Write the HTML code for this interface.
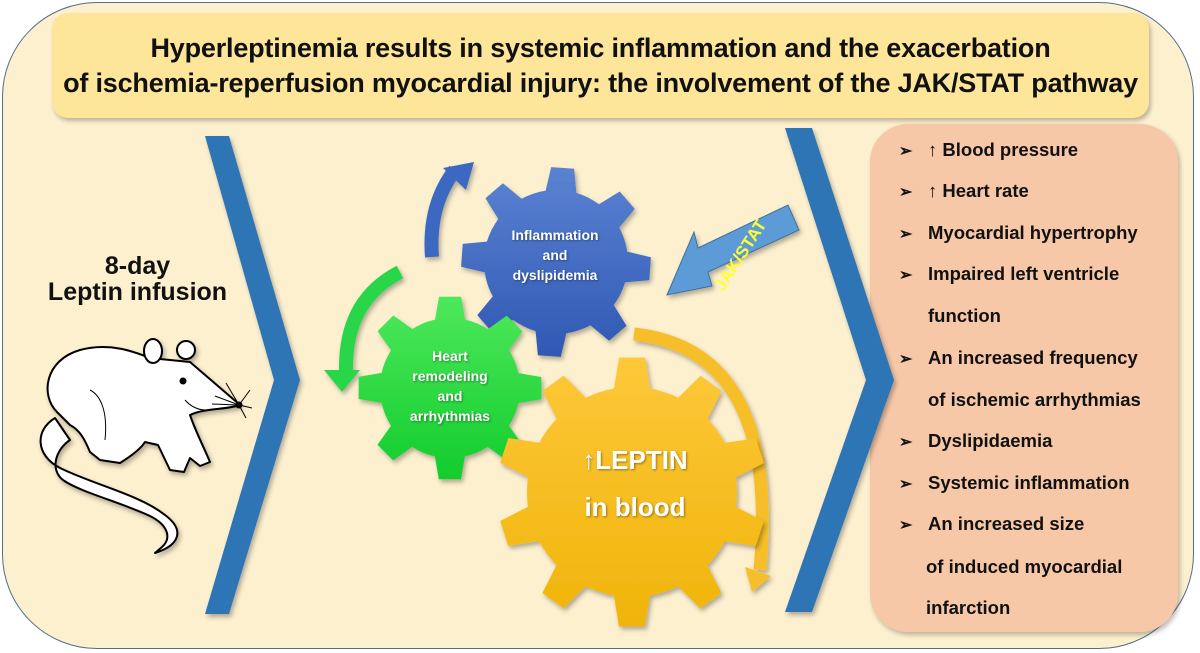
<!DOCTYPE html>
<html><head><meta charset="utf-8"><style>
html,body{margin:0;padding:0;background:#fff;}
body{width:1200px;height:653px;position:relative;overflow:hidden;font-family:"Liberation Sans",sans-serif;}
.outer{position:absolute;left:2px;top:2px;width:1192px;height:647px;background:#fdf0cf;border:1.5px solid #4f6f88;border-radius:95px;box-sizing:border-box;}
.title{position:absolute;left:52px;top:13px;width:1097px;height:105px;background:#fde599;border-radius:16px;box-shadow:2px 3px 4px rgba(0,0,0,.25);text-align:center;font-weight:bold;font-size:27px;line-height:35px;color:#111;padding-top:18px;box-sizing:border-box;letter-spacing:-.2px;}
.panel{position:absolute;left:870px;top:124px;width:308px;height:508px;background:#f7c8a8;border-radius:38px;box-shadow:2px 3px 5px rgba(0,0,0,.25);}
.li{position:absolute;left:899px;font-weight:bold;font-size:18.5px;color:#111;white-space:nowrap;}
.li b{display:inline-block;width:29px;font-size:16px;}
.ind{left:928px;}
.left{position:absolute;left:40px;width:195px;text-align:center;font-weight:bold;font-size:25px;color:#111;}
svg{position:absolute;left:0;top:0;}
</style></head><body>
<div class="outer"></div>
<div class="title">Hyperleptinemia results in systemic inflammation and the exacerbation<br>of ischemia-reperfusion myocardial injury: the involvement of the JAK/STAT pathway</div>
<div class="panel"></div>
<svg width="1200" height="653" viewBox="0 0 1200 653">
<defs>
<filter id="sh" x="-20%" y="-20%" width="140%" height="140%"><feDropShadow dx="2" dy="3" stdDeviation="2.5" flood-color="#000" flood-opacity="0.3"/></filter>
<linearGradient id="gb" x1="0" y1="0" x2="0" y2="1"><stop offset="0" stop-color="#5b82d2"/><stop offset="1" stop-color="#2f58b3"/></linearGradient>
<linearGradient id="gg" x1="0" y1="0" x2="0" y2="1"><stop offset="0" stop-color="#4ee85c"/><stop offset="1" stop-color="#12cc2c"/></linearGradient>
<linearGradient id="gy" x1="0" y1="0" x2="0" y2="1"><stop offset="0" stop-color="#fdc83a"/><stop offset="1" stop-color="#f0b40a"/></linearGradient>
</defs>
<polygon points="205,136 229,136 300,380 229,614 205,614 274,380" fill="#2e74b5" filter="url(#sh)"/>
<polygon points="785,128 812,128 894,380 812,612 785,612 866,380" fill="#2e74b5" filter="url(#sh)"/>
<g filter="url(#sh)">
<path d="M432,257 Q428,205 455,170" fill="none" stroke="#3d68c2" stroke-width="14"/>
<polygon points="443,168 474,162 466,190" fill="#3d68c2"/>
<path d="M400,272 Q345,300 346,370" fill="none" stroke="#2bd648" stroke-width="14"/>
<polygon points="324,370 360,370 342,392" fill="#2bd648"/>
<path d="M634,334 Q780,350 760,570" fill="none" stroke="#f6bf2a" stroke-width="13"/>
<polygon points="745,567 771,576 752,592" fill="#f6bf2a"/>
<polygon points="667,295 694,232 698,248 788,205 799,230 708,272 712,286" fill="#5b9bd5" stroke="#41719c" stroke-width="1"/>
</g>
<g id="gears"></g>
<text x="0" y="6" text-anchor="middle" transform="translate(740,255) rotate(-57)" font-family="Liberation Sans,sans-serif" font-weight="bold" font-size="17" fill="#ffff33">JAK/STAT</text>
<!-- mouse -->
<g filter="url(#sh)" stroke="#000" stroke-width="2" fill="#fff" stroke-linejoin="round">
<path d="M55,418 C35,430 35,455 60,468 C95,485 140,495 165,515 C185,530 180,545 155,553 L162,547 C172,538 168,525 150,516 C120,502 80,492 63,480 C50,470 55,450 70,440 Z"/>
<path d="M57,412 C40,395 45,360 80,350 C110,342 135,352 150,358 L190,362 L240,405 C225,410 205,408 190,415 C195,430 205,450 210,462 L200,466 L190,458 L184,472 L170,470 L158,445 L145,442 C140,450 128,458 120,463 L100,460 L90,452 C85,440 80,430 70,425 Z"/>
<ellipse cx="153" cy="351" rx="9" ry="12"/>
<circle cx="186" cy="350" r="9"/>
</g>
<circle cx="183" cy="381" r="3.5" fill="#000"/>
<circle cx="239" cy="405" r="3.5" fill="#000"/>
<g stroke="#000" stroke-width="1" fill="none"><path d="M239,405 L226,383 M239,405 L250,390 M239,405 L252,408 M239,405 L246,418 M239,405 L215,396 M239,405 L212,404"/>
<path d="M185,400 C190,406 198,410 205,410"/><path d="M90,390 C100,395 108,410 105,440"/></g>
</svg>
<div class="left" style="top:252px">8-day</div>
<div class="left" style="top:278px">Leptin infusion</div>

<div class="li" style="top:139px"><b>➢</b>↑ Blood pressure</div>
<div class="li" style="top:180px"><b>➢</b>↑ Heart rate</div>
<div class="li" style="top:222px"><b>➢</b>Myocardial hypertrophy</div>
<div class="li" style="top:263px"><b>➢</b>Impaired left ventricle</div>
<div class="li ind" style="top:305px">function</div>
<div class="li" style="top:347px"><b>➢</b>An increased frequency</div>
<div class="li ind" style="top:389px">of ischemic arrhythmias</div>
<div class="li" style="top:430px"><b>➢</b>Dyslipidaemia</div>
<div class="li" style="top:472px"><b>➢</b>Systemic inflammation</div>
<div class="li" style="top:513px"><b>➢</b>An increased size</div>
<div class="li ind" style="top:556px;left:926px">of induced myocardial</div>
<div class="li ind" style="top:597px;left:926px">infarction</div>

<script>
function gear(cx,cy,rIn,rOut,n,rot,fill){
  var pts=[],step=2*Math.PI/n;
  for(var i=0;i<n;i++){
    var a=rot+i*step;
    var t=[[-0.5,rIn],[-0.28,rOut],[0.28,rOut],[0.5,rIn]];
    for(var k=0;k<4;k++){var ang=a+t[k][0]*step*0.55*2*0.5;pts.push((cx+t[k][1]*Math.cos(ang)).toFixed(1)+","+(cy+t[k][1]*Math.sin(ang)).toFixed(1));}
    for(var j=1;j<4;j++){var ang2=a+0.25*step+j*(0.5*step)/4;pts.push((cx+rIn*Math.cos(ang2)).toFixed(1)+","+(cy+rIn*Math.sin(ang2)).toFixed(1));}
  }
  return '<polygon points="'+pts.join(" ")+'" fill="'+fill+'" filter="url(#sh)"/>';
}
document.getElementById("gears").innerHTML=gear(556,262,72,95,8,-1.5,"url(#gb)")+gear(450,388,70,92,8,-1.57,"url(#gg)")+gear(632,492,105,135,10,-1.57,"url(#gy)");
</script>
<div style="position:absolute;left:480px;top:225px;width:150px;text-align:center;color:#fff;font-weight:bold;font-size:14px;line-height:20px;text-shadow:1px 1px 2px rgba(0,0,0,.4)">Inflammation<br>and<br>dyslipidemia</div>
<div style="position:absolute;left:375px;top:346px;width:150px;text-align:center;color:#fff;font-weight:bold;font-size:14px;line-height:20px;text-shadow:1px 1px 2px rgba(0,0,0,.4)">Heart<br>remodeling<br>and<br>arrhythmias</div>
<div style="position:absolute;left:540px;top:437px;width:190px;text-align:center;color:#fff;font-weight:bold;font-size:26px;line-height:47px;text-shadow:1px 1px 2px rgba(0,0,0,.4)">↑LEPTIN<br>in blood</div>
</body></html>
